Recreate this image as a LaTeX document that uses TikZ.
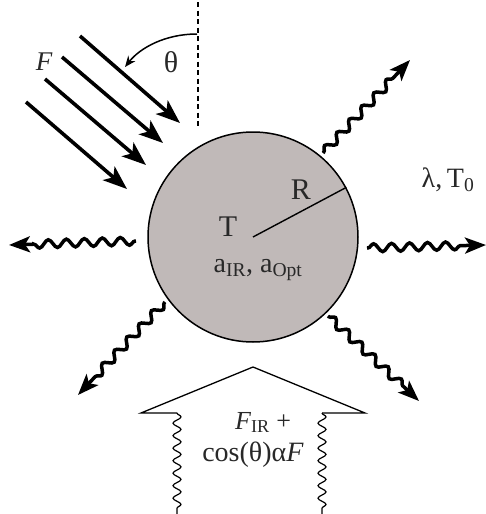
\documentclass[tikz,border=0pt]{standalone}
\usepackage{fontspec}
\setmainfont{Liberation Serif}
\usetikzlibrary{arrows.meta,decorations.pathmorphing}
\definecolor{ballgray}{RGB}{192,185,184}
\definecolor{txtgray}{RGB}{40,40,40}
\tikzset{
  sunarrow/.style={line width=3.6pt,-{Stealth[length=24pt,width=18pt,inset=6pt]}},
  wave/.style={line width=3.5pt,decorate,
    decoration={snake,amplitude=4pt,segment length=18pt,post length=18pt,pre length=1pt},
    -{Stealth[length=21pt,width=16pt,inset=5pt]}},
  thinwave/.style={line width=1.2pt,decorate,
    decoration={snake,amplitude=4pt,segment length=12.5pt}},
  biglbl/.style={font=\fontsize{30}{32}\selectfont,text=txtgray,inner sep=0pt},
  midlbl/.style={font=\fontsize{28}{30}\selectfont,text=txtgray,inner sep=0pt},
}
\begin{document}
\begin{tikzpicture}[x=1pt,y=-1pt]
\useasboundingbox (0,0) rectangle (486,514);
% ball
\node[circle,draw,line width=1.5pt,fill=ballgray,minimum size=210pt,inner sep=0pt] (ball) at (253,237) {};
\draw[line width=1.4pt] (ball.center) -- (ball.28);
\node[biglbl] (R) at (301,190) {R};
\node[biglbl] (T) at (228,227) {T};
\node[midlbl] (a) at (258,270) {a\textsubscript{IR}, a\textsubscript{Opt}};
\node[midlbl] (lam) at (448,180) {λ,\,T\textsubscript{0}};
% incoming flux
\coordinate (s1a) at (80,36);  \coordinate (s1b) at (180,123);
\coordinate (s2a) at (62,57);  \coordinate (s2b) at (163,143);
\coordinate (s3a) at (45,79);  \coordinate (s3b) at (146,165);
\coordinate (s4a) at (26,102); \coordinate (s4b) at (127,189);
\draw[sunarrow] (s1a) -- (s1b);
\draw[sunarrow] (s2a) -- (s2b);
\draw[sunarrow] (s3a) -- (s3b);
\draw[sunarrow] (s4a) -- (s4b);
\node[midlbl,font=\fontsize{27}{28}\selectfont\itshape] (F) at (44,62) {F};
% normal and angle
\coordinate (d1) at (198,2); \coordinate (d2) at (198,127);
\draw[line width=1.3pt,dash pattern=on 5pt off 3.5pt] (d1) -- (d2);
\coordinate (ta) at (197,34); \coordinate (tb) at (125,67);
\draw[line width=1.5pt,-{Stealth[length=11pt,width=9pt]}] (ta) .. controls (165,34) and (140,48) .. (tb);
\node[biglbl] (th) at (171,62) {θ};
% emitted radiation
\coordinate (w1a) at (323,153); \coordinate (w1b) at (410,60);
\coordinate (w2a) at (367,248); \coordinate (w2b) at (486,245);
\coordinate (w3a) at (136,241); \coordinate (w3b) at (9,245);
\coordinate (w4a) at (165,302); \coordinate (w4b) at (78,395);
\coordinate (w5a) at (328,316); \coordinate (w5b) at (419,401);
\draw[wave] (w1a) -- (w1b);
\draw[wave] (w2a) -- (w2b);
\draw[wave] (w3a) -- (w3b);
\draw[wave] (w4a) -- (w4b);
\draw[wave] (w5a) -- (w5b);
% bottom flux arrow
\coordinate (bli) at (177,413); \coordinate (bl) at (141,413);
\coordinate (apex) at (253,367);
\coordinate (br) at (365,413); \coordinate (bri) at (322,413);
\coordinate (blb) at (177,514); \coordinate (brb) at (322,514);
\draw[line width=1.3pt,line join=miter] (bli) -- (bl) -- (apex) -- (br) -- (bri);
\draw[thinwave] (bli) -- (blb);
\draw[thinwave] (bri) -- (brb);
\node[midlbl,anchor=base,font=\fontsize{26}{28}\selectfont] (fir) at (263,429) {\textit{F}\textsubscript{IR} +};
\node[midlbl,anchor=base,font=\fontsize{28}{30}\selectfont] (cos) at (253,461) {cos(θ)α\textit{F}};
\end{tikzpicture}
\end{document}
